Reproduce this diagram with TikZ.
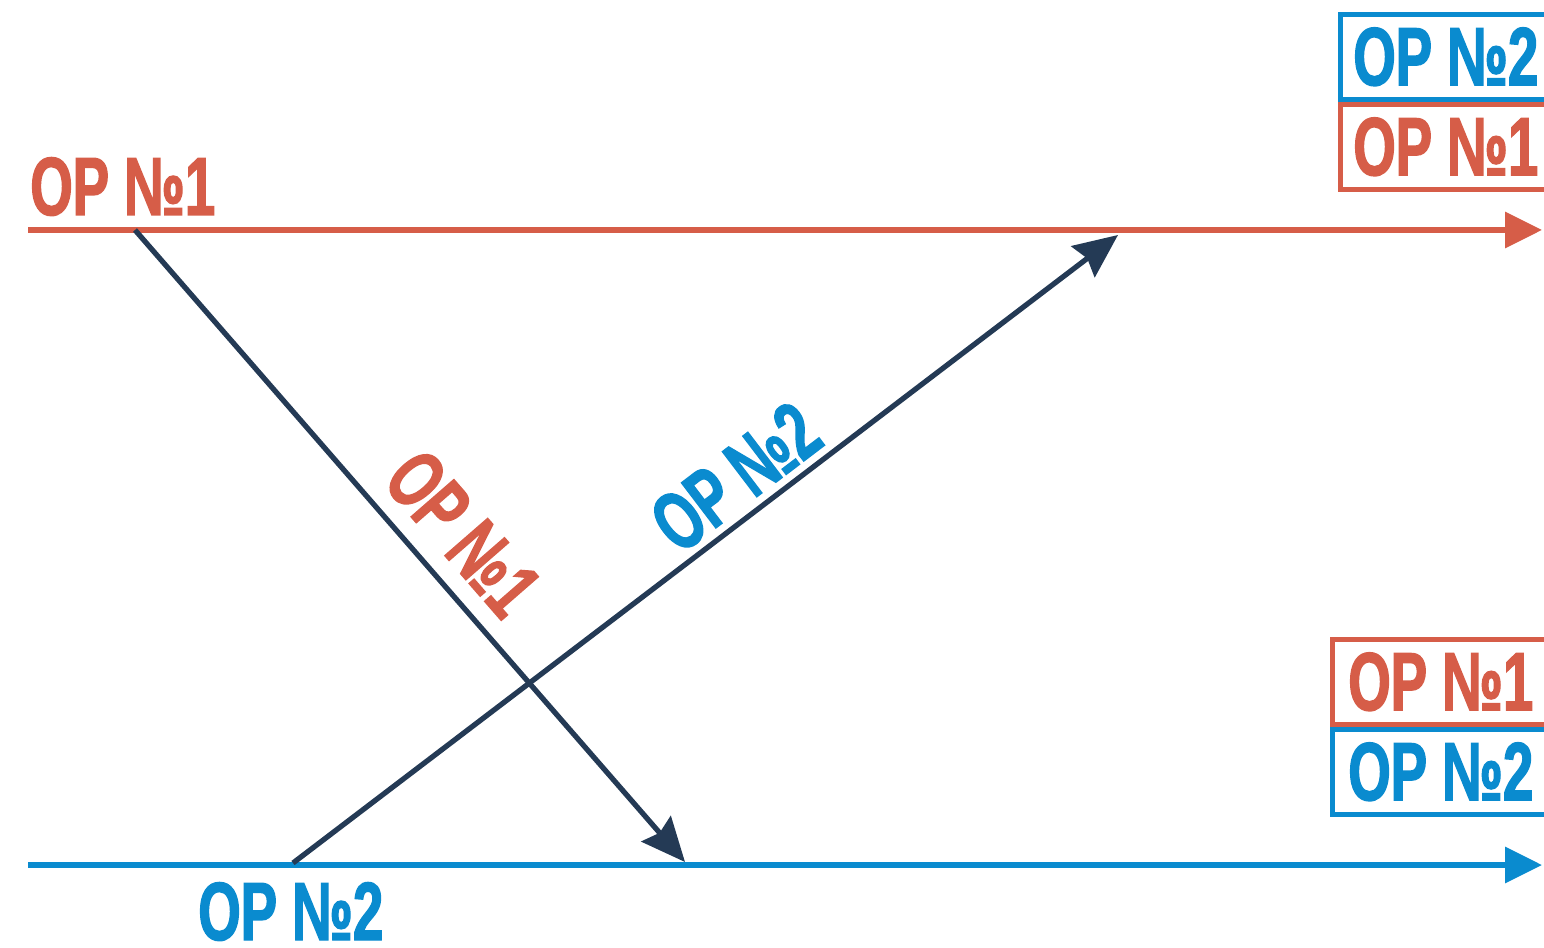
\documentclass[tikz,border=0pt]{standalone}
\usepackage{fontspec}
\usetikzlibrary{arrows.meta}
\newfontfamily\opfont{Liberation Sans}[FakeStretch=0.66,FakeBold=1.6]
\definecolor{rouge}{HTML}{D65D48}\definecolor{bleu}{HTML}{0A8BCF}\definecolor{marine}{HTML}{243A55}
\tikzset{every node/.style={font=\opfont\bfseries\fontsize{47}{47}\selectfont},axe/.style={line width=3.3pt,-{Triangle[length=21pt,width=20pt]}},flow/.style={line width=3pt,draw=marine,-{Stealth[length=25pt,width=22pt,inset=3pt]}}}
\tikzset{boite/.style={draw=#1,line width=2.6pt,anchor=north west,minimum height=1.7cm,minimum width=5.2cm},op/.style={text=#1,anchor=west,inner sep=0}}

\begin{document}
\begin{tikzpicture}[x=.02cm,y=.02cm]
\useasboundingbox (0,0) rectangle (1544,947);\clip (0,0) rectangle (1544,947);
% Axes horizontaux (y = 947 - y de l'image)
\coordinate (r0) at (28,717);\coordinate (r1) at (1542,717);\coordinate (b0) at (28,82);\coordinate (b1) at (1542,82);
\draw[axe,rouge] (r0)--(r1);\draw[axe,bleu] (b0)--(b1);
\node[rouge,anchor=base west,inner sep=0] (lr) at (30,732){OP №1};\node[bleu,anchor=base west,inner sep=0] (lb) at (198,7){OP №2};
% Messages croisés
\coordinate (d1) at (135,717);\coordinate (f1) at (685,85);\coordinate (d2) at (293,84);\coordinate (f2) at (1118,712);
\draw[flow] (d1)--(f1) node[pos=.53,sloped,above,inner sep=.33cm,rouge] (m1){OP №1};
\draw[flow] (d2)--(f2) node[pos=.565,sloped,above,inner sep=.14cm,bleu] (m2){OP №2};
% Files d'attente
\node[boite=bleu] (q1) at (1338,935){};\node[op=bleu] (t1) at ([xshift=.3cm]q1.west){OP №2};
\node[boite=rouge] (q2) at (1338,845){};\node[op=rouge] (t2) at ([xshift=.3cm]q2.west){OP №1};
\node[boite=rouge] (q3) at (1330,310){};\node[op=rouge] (t3) at ([xshift=.36cm]q3.west){OP №1};
\node[boite=bleu] (q4) at (1330,220){};\node[op=bleu] (t4) at ([xshift=.36cm]q4.west){OP №2};
\end{tikzpicture}
\end{document}
